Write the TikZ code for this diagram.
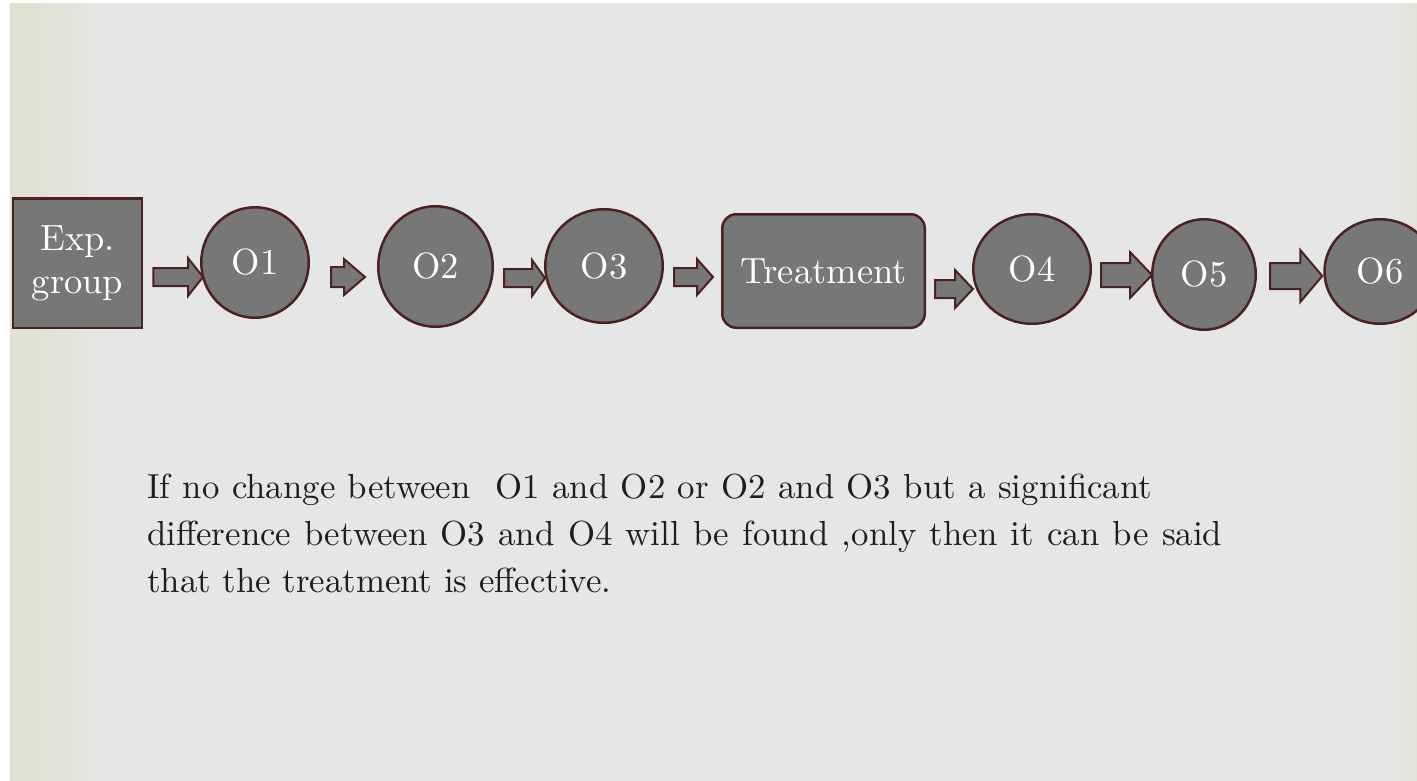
\documentclass[tikz,border=0pt]{standalone}
\usepackage{fontspec}
% one design size throughout, so large text keeps the regular proportions
\setmainfont{lmroman10-regular}[Extension=.otf]
\usetikzlibrary{calc,shapes.geometric}

\definecolor{bgpaper}{HTML}{E7E6E6}
\definecolor{bgband}{HTML}{E1E1D2}
\definecolor{boxfill}{HTML}{777777}
\definecolor{boxedge}{HTML}{4C2121}
\definecolor{inktext}{HTML}{1E1E1E}

\tikzset{
  shapebase/.style={draw=boxedge, fill=boxfill, line width=2.5pt, text=white,
    font=\fontsize{36.5}{43}\selectfont, inner sep=0pt},
  obsnode/.style={shapebase, ellipse},
  boxnode/.style={shapebase, rectangle, align=center},
  flowarrow/.style={draw=boxedge, fill=boxfill, line width=2pt, line join=miter},
  bodytext/.style={text=inktext, font=\fontsize{34.8}{47}\selectfont,
    inner sep=0pt, anchor=base west},
}

% Block arrow between two nodes:
% #1 from, #2 to, #3 gap after #1, #4 gap before #2, #5 centre line (down),
% #6 half body height, #7 half head height, #8 head length
\newcommand{\blockarrow}[8]{%
  \path[flowarrow] let \p1=(#1.east), \p2=(#2.west),
      \n1={\x1+(#3pt)}, \n2={\x2-(#4pt)}, \n3={\n2-(#8pt)} in
    (\n1,-#5+#6) -- (\n3,-#5+#6) -- (\n3,-#5+#7) -- (\n2,-#5)
    -- (\n3,-#5-#7) -- (\n3,-#5-#6) -- (\n1,-#5-#6) -- cycle;}

\begin{document}
\begin{tikzpicture}[x=1pt, y=1pt]
  \useasboundingbox (0,0) rectangle (1417,-780);
  \clip (0,0) rectangle (1417,-780);

  % paper
  \fill[white] (0,0) rectangle (1417,-780);
  \fill[bgpaper] (10,-3) rectangle (1417,-782);
  \fill[bgband] (10,-3) rectangle (35,-782);
  \shade[left color=bgband, right color=bgpaper] (35,-3) rectangle (110,-782);
  \shade[left color=bgpaper, right color=bgband!70!bgpaper] (1390,-3) rectangle (1418,-782);

  % sequence of stages
  \node[boxnode, minimum width=129, minimum height=129.5] (exp) at (77.5,-263) {Exp.\\group};
  \node[obsnode, minimum width=107.5, minimum height=110.5] (o1) at (255,-262.5) {O1};
  \node[obsnode, minimum width=114.5, minimum height=120.5] (o2) at (435.5,-266.5) {O2};
  \node[obsnode, minimum width=117.5, minimum height=113.5] (o3) at (604,-266) {O3};
  \node[boxnode, rounded corners=14pt, minimum width=202.5, minimum height=113.5] (treat) at (823.5,-271) {Treatment};
  \node[obsnode, minimum width=117.5, minimum height=109.5] (o4) at (1032,-269) {O4};
  \node[obsnode, minimum width=103.5, minimum height=110.5] (o5) at (1204,-274.5) {O5};
  \node[obsnode, minimum width=111, minimum height=104.5] (o6) at (1380,-271.5) {O6};

  \blockarrow{exp}{o1}{10}{-3}{277}{9}{19}{15}
  \blockarrow{o1}{o2}{21}{12}{277}{10}{18}{21}
  \blockarrow{o2}{o3}{10}{-1}{278}{9}{18}{13}
  \blockarrow{o3}{treat}{10}{8}{277}{9}{18}{16}
  \blockarrow{treat}{o4}{9}{-1}{289}{9}{19}{18}
  \blockarrow{o4}{o5}{9}{-1}{275}{12}{23}{22}
  \blockarrow{o5}{o6}{13}{1}{276}{13}{26}{22}

  % explanation, first two lines spread to their full measure
  \node[bodytext] (line1) at (147,-498) {\makebox[1005pt][s]{If no change between~ O1 and O2 or O2 and O3 but a significant}};
  \node[bodytext] (line2) at (147,-545) {\makebox[1075pt][s]{difference between O3 and O4 will be found ,only then it can be said}};
  \node[bodytext] (line3) at (147,-592) {that the treatment is effective.};
\end{tikzpicture}
\end{document}
